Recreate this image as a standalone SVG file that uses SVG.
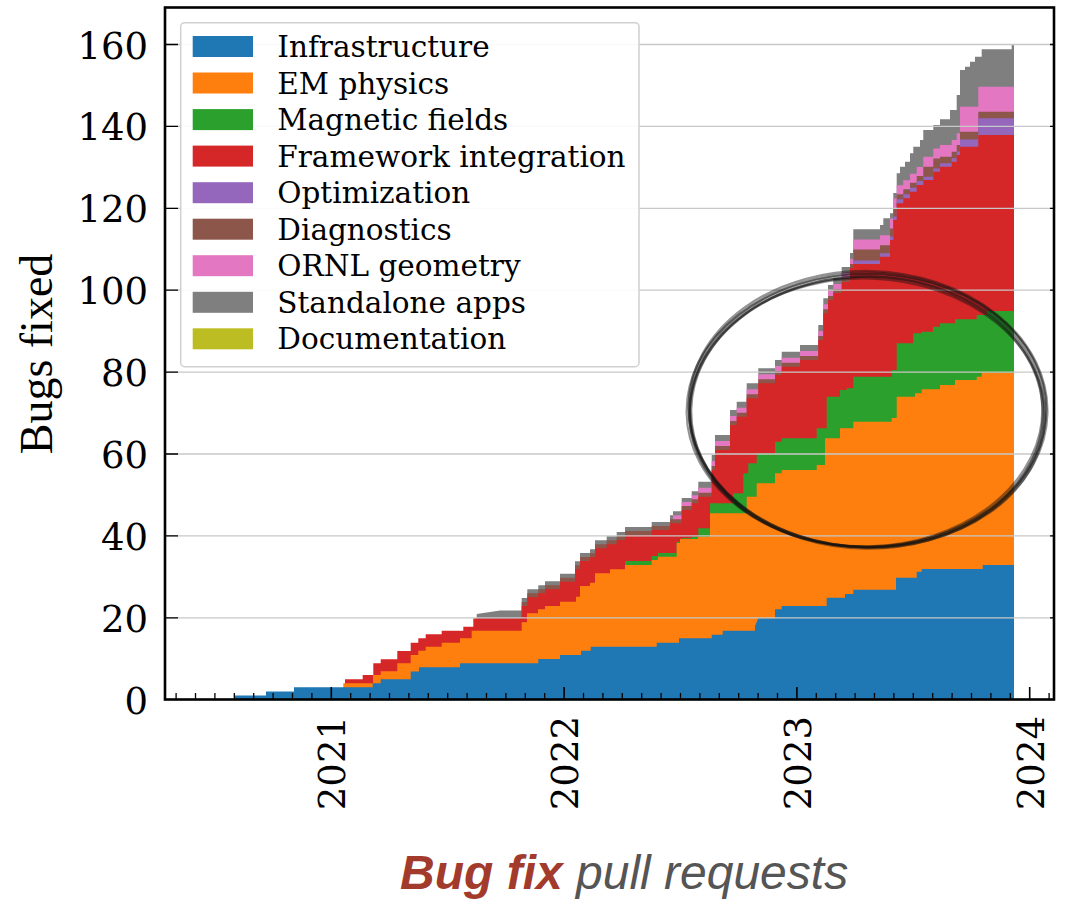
<svg xmlns="http://www.w3.org/2000/svg" width="1071" height="900" viewBox="0 0 1071 900">
<style>
.tk{font-family:"DejaVu Serif",serif;font-size:37px;fill:#000}
.lg{font-family:"DejaVu Serif",serif;font-size:29.5px;fill:#000}
.grid line{stroke:#c8c8c8;stroke-width:1.3}
.ring ellipse{fill:none;stroke:#111;stroke-opacity:0.45}
</style>
<rect width="1071" height="900" fill="#fff"/>
<g id="areas">
<path id="standalone" fill="#7f7f7f" d="M476.7,699.5 V614 L500,610.5 H521.7 V598 H527.3 V589.3 H538.3 V585.3 H545 V581.3 H560 V573.7 H575 V561.3 H580 V553 H590 V549.3 H595 V540.3 H606.7 V536.3 H616.7 V532 H625 V527 H651.7 V522 H670 V515.3 H673 V511.3 H681.7 V498 H691.7 V491.3 H698.3 V481.7 H711.7 V455 H715 V435 H730 V410 H736.7 V401.7 H746.7 V383.3 H758.3 V368.3 H775 V360 H781.7 V351.7 H800 V345 H818.3 V325 H823.3 V298.3 H828 V285 H833.3 V278 H841.7 V267 H850 V253 H853.3 V229.3 H880 V225 H883.3 V218.3 H890 V213.3 H893.3 V193 H896.7 V173.3 H900 V166.7 H905 V161.7 H910 V153.3 H913.3 V146.7 H920 V140 H923.3 V130 H933.3 V125 H940 V119.3 H950 V110 H956.7 V95 H960 V70 H965 V66.7 H970 V61.7 H975 V56.7 H981.7 V49.3 H1011.7 V44 H1014 V699.5 Z"/>
<path id="ornl" fill="#e377c2" d="M673,699.5 V515.3 H681.7 V502 H691.7 V495.3 H698.3 V487.7 H711.7 V461 H715 V441 H730 V416 H736.7 V407.7 H746.7 V389.3 H758.3 V374.3 H775 V366 H781.7 V357.7 H800 V351 H818.3 V331 H823.3 V304.3 H828 V291 H833.3 V284 H841.7 V273 H850 V259 H853.3 V239.5 H880 V235.2 H890 V218.5 H893.3 V198.5 H896.7 V185.3 H903.3 V180.3 H910 V173.7 H916.7 V167 H923.3 V156.7 H933.3 V148.4 H940 V145 H951.7 V140 H956.7 V133.3 H960 V106.8 H978.3 V86.7 H1014 V699.5 Z"/>
<path id="diagnostics" fill="#8c564b" d="M521.7,699.5 V602 H527.3 V593.3 H538.3 V589.3 H545 V585.3 H560 V577.7 H575 V565.3 H580 V557 H590 V553.3 H595 V544.3 H606.7 V540.3 H616.7 V536 H625 V531 H651.7 V526 H670 V519.3 H681.7 V506 H691.7 V499.3 H698.3 V492.7 H711.7 V466 H715 V446 H730 V421 H736.7 V412.7 H746.7 V394.3 H758.3 V379.3 H775 V371 H781.7 V362.7 H800 V356 H818.3 V336 H823.3 V309.3 H828 V296 H833.3 V289 H841.7 V278 H850 V264 H853.3 V249.5 H880 V245.2 H890 V228.5 H893.3 V208.5 H896.7 V194.3 H903.3 V189.3 H910 V182.7 H916.7 V176 H923.3 V166.7 H933.3 V158.4 H940 V156.7 H951.7 V151.7 H956.7 V145 H960 V131.8 H978.3 V111.7 H1014 V699.5 Z"/>
<path id="optimization" fill="#9467bd" d="M853.3,699.5 V260.5 H880 V253.2 H890 V236.5 H893.3 V216.5 H896.7 V199.3 H903.3 V194.3 H910 V187.7 H916.7 V181 H923.3 V176.7 H933.3 V168.4 H940 V163.3 H951.7 V158.3 H956.7 V151.6 H960 V139.4 H978.3 V118.3 H1014 V699.5 Z"/>
<path id="framework" fill="#d62728" d="M345,699.5 V679.3 H362.7 V675 H373.3 V663.3 H380.7 V659.3 H397.3 V651 H410.7 V642.7 H418.3 V638.3 H425.7 V634.3 H441.7 V630.7 H463.3 V626.7 H473.3 V618.3 H521.7 V606 H527.3 V597.3 H538.3 V593.3 H545 V589.3 H560 V581.7 H575 V569.3 H580 V561 H590 V557.3 H595 V548.3 H606.7 V544.3 H616.7 V540 H625 V535 H651.7 V530 H670 V523.3 H681.7 V510 H691.7 V503.3 H698.3 V496.7 H711.7 V470 H715 V450 H730 V425 H736.7 V416.7 H746.7 V398.3 H758.3 V383.3 H775 V375 H781.7 V366.7 H800 V360 H818.3 V340 H823.3 V313.3 H828 V300 H833.3 V293 H841.7 V282 H850 V268 H853.3 V264 H880 V256.7 H890 V240 H893.3 V220 H896.7 V203.3 H903.3 V198.3 H910 V191.7 H916.7 V185 H923.3 V180 H933.3 V171.7 H940 V166.7 H951.7 V161.7 H956.7 V155 H960 V146.7 H978.3 V135 H1014 V699.5 Z"/>
<path id="magnetic" fill="#2ca02c" d="M625,699.5 V561 H651.7 V556 H658 V553 H676.7 V541.7 H681.7 V538.3 H691.7 V536.7 H698.3 V528.3 H710 V503.3 H733.3 V493.3 H743.3 V473.3 H748.3 V463.3 H756.7 V453.3 H775 V441.7 H781.7 V438.3 H816.7 V428.3 H826.7 V396.7 H840 V390 H846.7 V388.3 H853.3 V376.7 H891.7 V370 H896.7 V343.3 H913.3 V333.3 H921.7 V331.7 H933 V326.7 H940 V323.3 H955 V319.3 H976.7 V315 H986.7 V311 H1014 V699.5 Z"/>
<path id="em" fill="#ff7f0e" d="M343.3,699.5 V683.3 H373 V675 H380.7 V671.3 H397.3 V663.3 H410.7 V655 H418.3 V650.7 H425.7 V646.7 H441.7 V642.7 H460 V638.3 H471.7 V630.7 H521.7 V622.3 H527 V613.3 H538 V609.3 H545 V606 H560 V601.7 H576 V596.7 H580 V586 H590 V582.7 H595 V573.3 H610 V569.3 H625 V565 H651.7 V560 H658 V556.7 H676.7 V543 H680 V539 H698 V536.7 H710 V513.3 H746.7 V496.7 H756.7 V483.3 H775 V473.3 H781.7 V470 H816.7 V465 H825 V438.3 H840 V428.3 H853.3 V421.7 H891.7 V418 H896.7 V396.7 H915 V393.3 H921.7 V389.3 H940 V385 H955 V380 H976.7 V376.7 H981.7 V372.7 H1014 V699.5 Z"/>
<path id="infra" fill="#1f77b4" d="M234,699.5 V695.6 H266 V691.5 H294 V687.3 H372.7 V683.3 H380.7 V679.3 H410.7 V671.5 H419 V667.3 H460 V663.3 H538.3 V659 H560 V655 H581 V650.7 H590.7 V646.7 H656.7 V642.7 H679 V638.3 H711.7 V634.7 H722.7 V630.7 H755 V626 L758.3,618.3 H775 V609.3 H781.7 V606 H826.7 V597.7 H845 V594 H853.3 V589.7 H896 V577.7 H916.7 V571.7 H921.7 V569 H982.7 V565 H1014 V699.5 Z"/>
</g>
<g id="grid" class="grid">
<line x1="165" y1="617.8" x2="1054" y2="617.8"/>
<line x1="165" y1="535.9" x2="1054" y2="535.9"/>
<line x1="165" y1="454" x2="1054" y2="454"/>
<line x1="165" y1="372.1" x2="1054" y2="372.1"/>
<line x1="165" y1="290.2" x2="1054" y2="290.2"/>
<line x1="165" y1="208.3" x2="1054" y2="208.3"/>
<line x1="165" y1="126.4" x2="1054" y2="126.4"/>
<line x1="165" y1="44.5" x2="1054" y2="44.5"/>
</g>
<g id="ticks" fill="none" stroke="#000" stroke-width="1.3">
<path d="M165,617.8h13M165,535.9h13M165,454h13M165,372.1h13M165,290.2h13M165,208.3h13M165,126.4h13M165,44.5h13M1054,617.8h-4M1054,535.9h-4M1054,454h-4M1054,372.1h-4M1054,290.2h-4M1054,208.3h-4M1054,126.4h-4M1054,44.5h-4"/>
<path d="M176.1,699v-6M195.5,699v-6M214.9,699v-6M234.3,699v-6M253.7,699v-6M273.1,699v-6M292.5,699v-6M311.9,699v-6M350.7,699v-6M370.1,699v-6M389.5,699v-6M408.9,699v-6M428.3,699v-6M447.7,699v-6M467.1,699v-6M486.5,699v-6M505.9,699v-6M525.3,699v-6M544.7,699v-6M583.5,699v-6M602.9,699v-6M622.3,699v-6M641.7,699v-6M661.1,699v-6M680.5,699v-6M699.9,699v-6M719.3,699v-6M738.7,699v-6M758.1,699v-6M777.5,699v-6M816.3,699v-6M835.7,699v-6M855.1,699v-6M874.5,699v-6M893.9,699v-6M913.3,699v-6M932.7,699v-6M952.1,699v-6M971.5,699v-6M990.9,699v-6M1010.3,699v-6M1049.1,699v-6"/>
<path d="M331.3,699v-12M564.1,699v-12M796.9,699v-12M1029.7,699v-12" stroke-width="1.6"/>
</g>
<rect id="frame" x="165" y="7.5" width="889" height="692" fill="none" stroke="#000" stroke-width="2.6"/>
<g id="ytick-labels" class="tk" text-anchor="end">
<text x="148" y="713.7">0</text>
<text x="148" y="631.8">20</text>
<text x="148" y="549.9">40</text>
<text x="148" y="468">60</text>
<text x="148" y="386.1">80</text>
<text x="148" y="304.2">100</text>
<text x="148" y="222.3">120</text>
<text x="148" y="140.4">140</text>
<text x="148" y="58.5">160</text>
</g>
<g id="xtick-labels" class="tk" text-anchor="end">
<text transform="translate(345.3,716) rotate(-90)">2021</text>
<text transform="translate(578.1,716) rotate(-90)">2022</text>
<text transform="translate(810.9,716) rotate(-90)">2023</text>
<text transform="translate(1043.7,716) rotate(-90)">2024</text>
</g>
<text id="ylabel" transform="translate(52,354) rotate(-90)" text-anchor="middle" font-family="'Liberation Serif',serif" font-size="46" fill="#000">Bugs fixed</text>
<g id="legend">
<rect x="180.7" y="22.7" width="458.3" height="344" rx="4" fill="#fff" fill-opacity="0.9" stroke="#d0d0d0" stroke-width="1.5"/>
<rect x="192.7" y="36" width="60.3" height="21" fill="#1f77b4"/>
<rect x="192.7" y="72.5" width="60.3" height="21" fill="#ff7f0e"/>
<rect x="192.7" y="109.1" width="60.3" height="21" fill="#2ca02c"/>
<rect x="192.7" y="145.6" width="60.3" height="21" fill="#d62728"/>
<rect x="192.7" y="182.2" width="60.3" height="21" fill="#9467bd"/>
<rect x="192.7" y="218.7" width="60.3" height="21" fill="#8c564b"/>
<rect x="192.7" y="255.2" width="60.3" height="21" fill="#e377c2"/>
<rect x="192.7" y="291.8" width="60.3" height="21" fill="#7f7f7f"/>
<rect x="192.7" y="328.3" width="60.3" height="21" fill="#bcbd22"/>
<g class="lg">
<text x="277.3" y="57">Infrastructure</text>
<text x="277.3" y="93.5">EM physics</text>
<text x="277.3" y="130.1">Magnetic fields</text>
<text x="277.3" y="166.6">Framework integration</text>
<text x="277.3" y="203.2">Optimization</text>
<text x="277.3" y="239.7">Diagnostics</text>
<text x="277.3" y="276.2">ORNL geometry</text>
<text x="277.3" y="312.8">Standalone apps</text>
<text x="277.3" y="349.3">Documentation</text>
</g>
</g>
<g id="highlight-ring" class="ring">
<ellipse cx="867" cy="410" rx="178" ry="137" stroke-width="3"/>
<ellipse cx="866" cy="411.5" rx="176.5" ry="135" stroke-width="2.4" transform="rotate(-1.5 866 411.5)"/>
<ellipse cx="868" cy="409" rx="179.5" ry="138" stroke-width="2.2" transform="rotate(1.5 868 409)"/>
<ellipse cx="867" cy="412.5" rx="176" ry="136" stroke-width="2.6" transform="rotate(0.8 867 412.5)"/>
<ellipse cx="866.5" cy="410.5" rx="180" ry="136.5" stroke-width="2" transform="rotate(-0.6 866.5 410.5)"/>
<ellipse cx="867.5" cy="413" rx="177.5" ry="134.5" stroke-width="2.4" transform="rotate(2.2 867.5 413)"/>
</g>
<text id="title" x="400" y="889" font-family="'Liberation Sans',Arial,sans-serif" font-size="48" font-style="italic"><tspan font-weight="bold" fill="#a23b2c">Bug fix</tspan><tspan fill="#555555"> pull requests</tspan></text>
</svg>
